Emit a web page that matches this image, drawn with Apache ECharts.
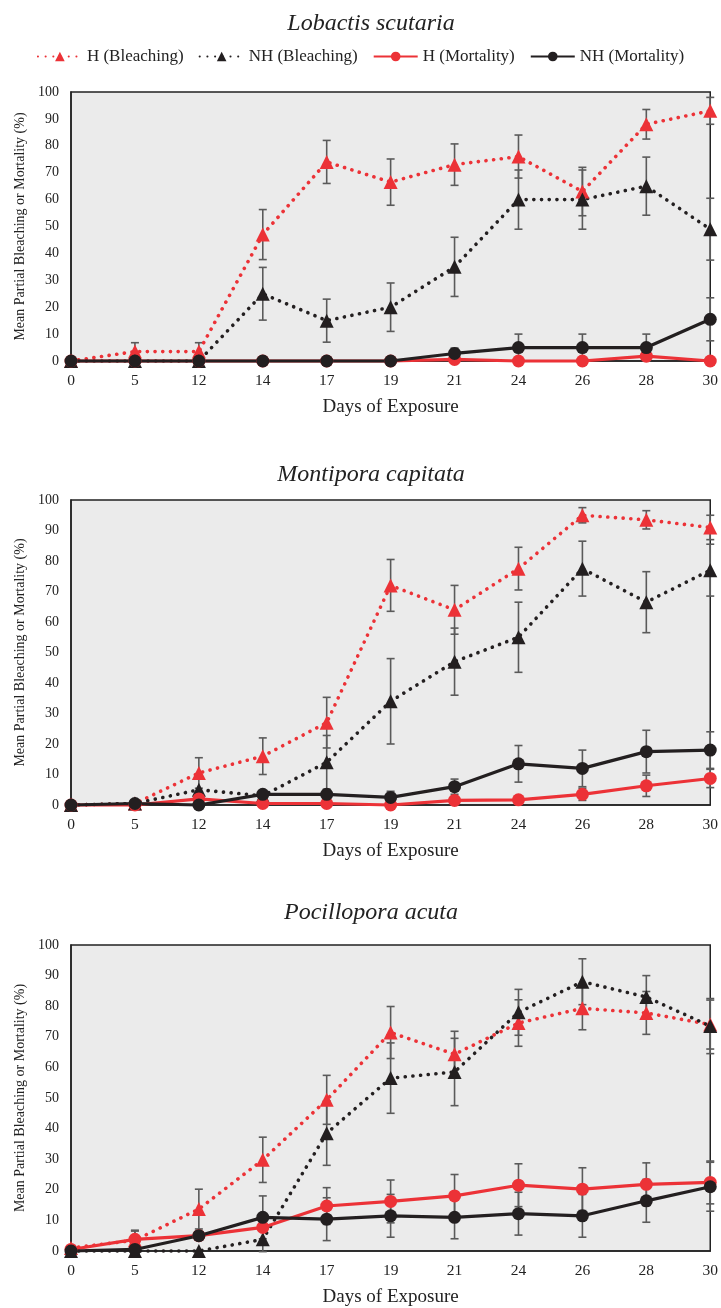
<!DOCTYPE html>
<html>
<head>
<meta charset="utf-8">
<script src="https://cdn.jsdelivr.net/npm/echarts@6/dist/echarts.min.js"></script>
<style>
  html, body { margin: 0; padding: 0; background: #fff; }
  #chart { width: 721px; height: 1308px; }
</style>
</head>
<body>
<div id="chart"></div>
<script>
const days = ['0', '5', '12', '14', '17', '19', '21', '24', '26', '28', '30'];
const yTicks = [0, 100, 10];

// Lobactis scutaria
const lsHBleach = [0, 3.5, 3.5, 47, 74, 66.5, 73, 76, 63, 88, 93];
const lsHBleachErr = [0, 3.3, 3.3, 9.3, 8, 8.6, 7.7, 8, 9, 5.5, 5];
const lsNHBleach = [0, 0, 0, 25, 15, 20, 35, 60, 60, 65, 49];
const lsNHBleachErr = [0, 0, 0, 9.8, 8, 9, 11, 11, 11, 10.8, 11.5];
const lsHMort = [0, 0, 0, 0, 0, 0, 0.6, 0, 0, 1.8, 0];
const lsHMortErr = [0, 0, 0, 0, 0, 0, 0, 0, 0, 0, 0];
const lsNHMort = [0, 0, 0, 0, 0, 0, 2.8, 5, 5, 5, 15.5];
const lsNHMortErr = [0, 0, 0, 0, 0, 0, 2, 5, 5, 5, 8];

// Montipora capitata
const mcHBleach = [0, 0.5, 10.5, 16, 27, 72, 64, 77.5, 95, 93.5, 91];
const mcHBleachErr = [0, 0, 5, 6, 8.3, 8.5, 8, 7, 2.5, 3, 4];
const mcNHBleach = [0, 0.5, 5, 3, 14, 34, 47, 55, 77.5, 66.5, 77];
const mcNHBleachErr = [0, 0, 0, 0, 8.8, 14, 11, 11.5, 9, 10, 8.5];
const mcHMort = [0, 0, 2, 0.5, 0.5, 0, 1.5, 1.7, 3.5, 6.3, 8.7];
const mcHMortErr = [0, 0, 0, 0, 0, 0, 0, 0, 2, 3.5, 3];
const mcNHMort = [0, 0.5, 0, 3.5, 3.5, 2.5, 6, 13.5, 12, 17.5, 18];
const mcNHMortErr = [0, 0, 0, 0, 0, 2, 2.5, 6, 6, 7, 6];

// Pocillopora acuta
const paHBleach = [1, 3.5, 13.7, 29.8, 49.4, 71.4, 64.3, 74.5, 79.3, 77.8, 74];
const paHBleachErr = [0, 3, 6.5, 7.4, 8, 8.5, 7.5, 7.6, 7, 7, 8];
const paNHBleach = [0, 0, 0, 3.8, 38.5, 56.5, 58.5, 78, 88, 83, 73.5];
const paNHBleachErr = [0, 0, 0, 4, 10.5, 11.5, 11, 7.5, 7.5, 7, 9];
const paHMort = [0.5, 3.8, 5, 7.7, 14.7, 16.2, 18, 21.5, 20.2, 21.8, 22.4];
const paHMortErr = [0, 3, 0, 0, 6, 7, 7, 7, 7, 7, 7];
const paNHMort = [0, 0.5, 5, 11, 10.4, 11.5, 11, 12.2, 11.5, 16.4, 21];
const paNHMortErr = [0, 0, 0, 7, 7, 7, 7, 7, 7, 7, 8];

const titles = ['Lobactis scutaria', 'Montipora capitata', 'Pocillopora acuta'];
const seriesNames = ['H (Bleaching)', 'NH (Bleaching)', 'H (Mortality)', 'NH (Mortality)'];

const panels = [
  [[lsHBleach, lsHBleachErr], [lsNHBleach, lsNHBleachErr], [lsHMort, lsHMortErr], [lsNHMort, lsNHMortErr]],
  [[mcHBleach, mcHBleachErr], [mcNHBleach, mcNHBleachErr], [mcHMort, mcHMortErr], [mcNHMort, mcNHMortErr]],
  [[paHBleach, paHBleachErr], [paNHBleach, paNHBleachErr], [paHMort, paHMortErr], [paNHMort, paNHMortErr]],
];

const RED = '#ec3237';
const BLACK = '#231f20';
const FONT = '"Liberation Serif", "Times New Roman", serif';

const styles = [
  { color: RED, dotted: true, symbol: 'triangle' },
  { color: BLACK, dotted: true, symbol: 'triangle' },
  { color: RED, dotted: false, symbol: 'circle' },
  { color: BLACK, dotted: false, symbol: 'circle' },
];

// plot rectangles of the three panels
const grids = [
  { left: 71, right: 9, top: 92, height: 269 },
  { left: 71, right: 9, top: 500, height: 305 },
  { left: 71, right: 9, top: 945, height: 306 },
];
const titleTops = [7, 458, 896];

function errRender(params, api) {
  const x = api.value(0);
  const top = api.coord([x, api.value(2)]);
  const bot = api.coord([x, api.value(1)]);
  const cap = 4;
  const st = { stroke: '#5a5a5a', lineWidth: 1.6 };
  return {
    type: 'group',
    children: [
      { type: 'line', shape: { x1: top[0], y1: top[1], x2: bot[0], y2: bot[1] }, style: st },
      { type: 'line', shape: { x1: top[0] - cap, y1: top[1], x2: top[0] + cap, y2: top[1] }, style: st },
      { type: 'line', shape: { x1: bot[0] - cap, y1: bot[1], x2: bot[0] + cap, y2: bot[1] }, style: st },
    ],
  };
}

const series = [];
panels.forEach((panel, g) => {
  panel.forEach(([vals, errs], k) => {
    const bars = [];
    vals.forEach((v, i) => {
      if (errs[i] > 0) bars.push([i, v - errs[i], v + errs[i]]);
    });
    series.push({
      type: 'custom',
      name: seriesNames[k] + ' err',
      xAxisIndex: g, yAxisIndex: g,
      renderItem: errRender,
      encode: { x: 0, y: [1, 2] },
      data: bars,
      clip: false,
      z: 1,
      silent: true,
    });
  });
  panel.forEach(([vals], k) => {
    const s = styles[k];
    series.push({
      type: 'line',
      name: seriesNames[k],
      xAxisIndex: g, yAxisIndex: g,
      data: vals,
      symbol: s.symbol,
      symbolSize: s.symbol === 'triangle' ? 14 : 13,
      showAllSymbol: true,
      clip: false,
      z: k >= 2 ? 4 : 3,
      itemStyle: { color: s.color },
      lineStyle: s.dotted
        ? { color: s.color, width: 3.6, type: [0.1, 7.6], cap: 'round' }
        : { color: s.color, width: 3.2 },
      emphasis: { disabled: true },
    });
  });
});

const chart = echarts.init(document.getElementById('chart'));
chart.setOption({
  animation: false,
  backgroundColor: '#fff',
  textStyle: { fontFamily: FONT },
  title: titles.map((t, i) => ({
    text: t,
    left: 366,
    textAlign: 'center',
    top: titleTops[i],
    textStyle: { fontFamily: FONT, fontStyle: 'italic', fontWeight: 'normal', fontSize: 24, color: '#222' },
  })),
  legend: {
    data: seriesNames,
    top: 43,
    left: 'center',
    itemWidth: 44,
    itemHeight: 12,
    itemGap: 15,
    textStyle: { fontFamily: FONT, fontSize: 17, color: '#222' },
  },
  grid: grids.map(g => ({
    ...g,
    show: true,
    backgroundColor: '#ebebeb',
    borderColor: '#222',
    borderWidth: 1.5,
  })),
  xAxis: grids.map((g, i) => ({
    type: 'category',
    gridIndex: i,
    data: days,
    boundaryGap: false,
    axisLine: { show: true, lineStyle: { color: '#222', width: 1.5 } },
    axisTick: { show: false },
    axisLabel: { fontFamily: FONT, fontSize: 15.5, color: '#222', margin: 12 },
    name: 'Days of Exposure',
    nameLocation: 'middle',
    nameGap: 37,
    nameTextStyle: { fontFamily: FONT, fontSize: 19, color: '#222' },
  })),
  yAxis: grids.map((g, i) => ({
    type: 'value',
    gridIndex: i,
    min: yTicks[0],
    max: yTicks[1],
    interval: yTicks[2],
    axisLine: { show: true, lineStyle: { color: '#222', width: 1.5 } },
    axisTick: { show: false },
    splitLine: { show: false },
    axisLabel: { fontFamily: FONT, fontSize: 14, color: '#222', margin: 12 },
    name: 'Mean Partial Bleaching or Mortality (%)',
    nameLocation: 'middle',
    nameGap: 40,
    nameTextStyle: { fontFamily: FONT, fontSize: 14, color: '#222' },
  })),
  series: series,
});
</script>
</body>
</html>
